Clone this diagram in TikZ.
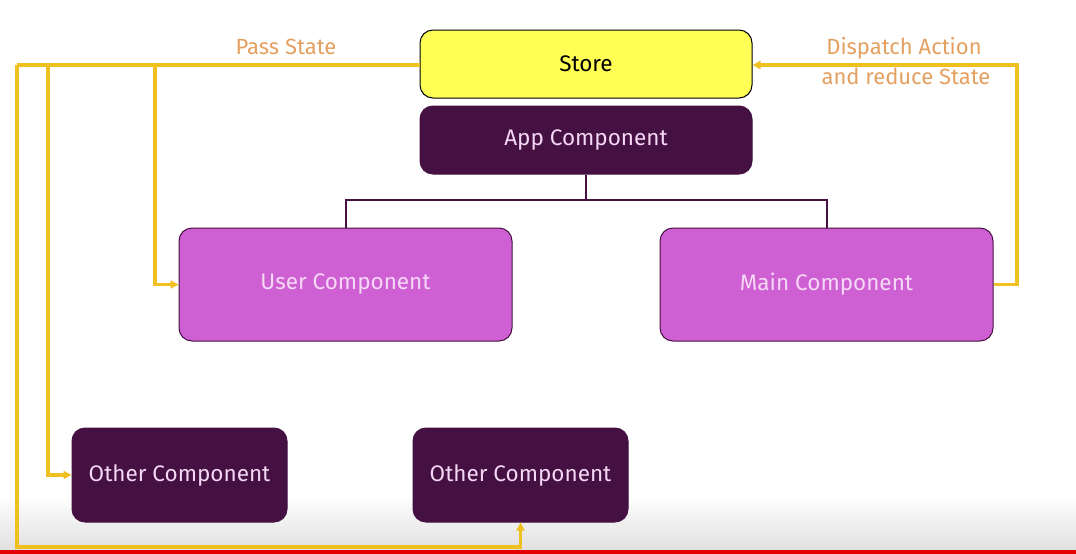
\documentclass[tikz,border=0pt]{standalone}
\usepackage{fontspec}
\setmainfont{Fira Sans}
\usetikzlibrary{arrows.meta}
\definecolor{storey}{HTML}{FFFF55}
\definecolor{darkp}{HTML}{451042}
\definecolor{pinkp}{HTML}{CF60D3}
\definecolor{flow}{HTML}{F0C020}
\definecolor{lbl}{HTML}{E3A060}
\definecolor{lighttxt}{HTML}{F5D8F5}
\begin{document}
\begin{tikzpicture}[x=1pt,y=-1pt,
  box/.style={rounded corners=13pt,draw=darkp,line width=1pt,inner sep=0pt,font=\fontsize{22.5}{26}\selectfont},
  storebox/.style={box,fill=storey,draw=black,text=black},
  darkbox/.style={box,fill=darkp,text=lighttxt},
  pinkbox/.style={box,fill=pinkp,text=lighttxt},
  tree/.style={draw=darkp,line width=2pt},
  flowline/.style={draw=flow,line width=3.2pt},
  flowarrow/.style={flowline,-{Triangle[length=8pt,width=8pt]}},
  lab/.style={text=lbl,font=\fontsize{22}{26}\selectfont,inner sep=0pt}]
\useasboundingbox (0,0) rectangle (1076,554);
\shade[top color=white,bottom color=black!12] (0,495) rectangle (1076,550);
\fill[red!90!black] (0,550) rectangle (1076,554);
\node[storebox,minimum width=332pt,minimum height=68pt] (store) at (586,64) {Store};
\node[darkbox,minimum width=332pt,minimum height=68pt] (app) at (586,140) {App Component};
\node[pinkbox,minimum width=333pt,minimum height=113pt] (user) at (345.5,284.5) {User Component};
\node[pinkbox,minimum width=333pt,minimum height=113pt] (main) at (826.5,284.5) {Main Component};
\node[darkbox,minimum width=215pt,minimum height=94pt] (o1) at (179.5,475) {Other Component};
\node[darkbox,minimum width=215pt,minimum height=94pt] (o2) at (520.5,475) {Other Component};
\coordinate (tj) at (586,200);
\draw[tree] (app.south) -- (tj);
\draw[tree] (user.north) |- (tj) -| (main.north);
\coordinate (c1) at (17,65);
\coordinate (c2) at (48,65);
\coordinate (c3) at (155,65);
\coordinate (cb) at (17,547);
\coordinate (cr) at (1017,65);
\draw[flowline] (store.west |- c1) -- (c1);
\draw[flowarrow] (c1) -- (cb) -| (o2.south);
\draw[flowarrow] (c2) |- (o1.west);
\draw[flowarrow] (c3) |- (user.west);
\draw[flowarrow] (main.east) -| (cr) -- (store.east |- cr);
\node[lab] (ps) at (286,47) {Pass State};
\node[lab] (da) at (904,48) {Dispatch Action};
\node[lab] (rs) at (906,76) {and reduce State};
\end{tikzpicture}
\end{document}
